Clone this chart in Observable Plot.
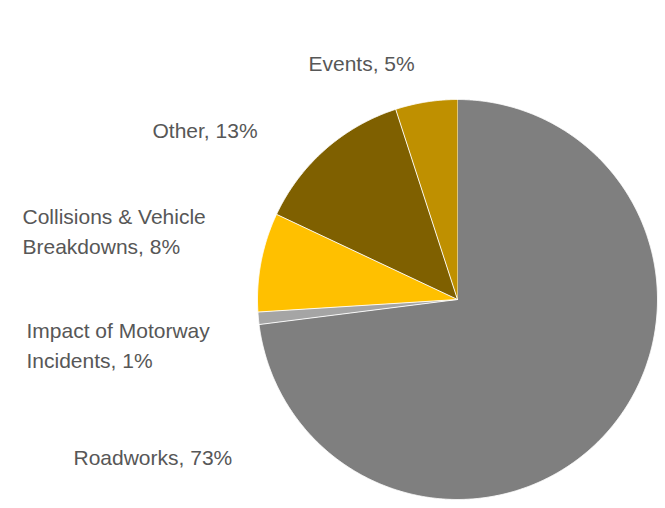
<!DOCTYPE html>
<html>
<head>
<meta charset="utf-8">
<script src="https://cdn.jsdelivr.net/npm/d3@7"></script>
<script src="https://cdn.jsdelivr.net/npm/@observablehq/plot@0.6"></script>
<style>
  html, body { margin: 0; padding: 0; background: #fff; }
  #chart { width: 665px; height: 508px; }
</style>
</head>
<body>
<div id="chart"></div>
<script>
// ---- data ----
const categories = ["Roadworks", "Impact of Motorway Incidents", "Collisions & Vehicle Breakdowns", "Other", "Events"];
const shares = [73, 1, 8, 13, 5];
const labels = ["Roadworks, 73%", "Impact of Motorway\nIncidents, 1%", "Collisions & Vehicle\nBreakdowns, 8%", "Other, 13%", "Events, 5%"];
const sliceColors = ["#7f7f7f", "#a5a5a5", "#ffc000", "#7f6000", "#bf9000"];

// ---- layout (label placement, pixels from the top-left of the frame) ----
const labelPlacement = [
  {dx: 73, dy: 444},
  {dx: 26, dy: 317},
  {dx: 22, dy: 203},
  {dx: 152, dy: 117},
  {dx: 308, dy: 50}
];
const fontSize = 21;

// build slice outlines from the pie layout
const arcs = d3.pie().sort(null).value(d => d)(shares);
const slicePoints = [];
arcs.forEach((a, i) => {
  slicePoints.push({slice: categories[i], color: sliceColors[i], x: 0, y: 0});
  const n = Math.max(2, Math.ceil((a.endAngle - a.startAngle) / 0.005));
  for (let k = 0; k <= n; k++) {
    const t = a.startAngle + (a.endAngle - a.startAngle) * k / n;
    slicePoints.push({slice: categories[i], color: sliceColors[i], x: Math.sin(t), y: Math.cos(t)});
  }
});

const cx = 457, cy = 299, r = 200;
const marks = [
  Plot.line(slicePoints, {
    x: "x", y: "y", z: "slice", fill: "color",
    stroke: "white", strokeWidth: 0.9, curve: "linear"
  })
];
labels.forEach((t, i) => {
  marks.push(Plot.text([t], {
    text: d => d,
    frameAnchor: "top-left",
    dx: labelPlacement[i].dx, dy: labelPlacement[i].dy,
    textAnchor: "start", lineAnchor: "top",
    lineHeight: 1.4,
    fill: "#575757",
    fontSize: fontSize,
    fontFamily: "'Liberation Sans Narrow', 'Arial Narrow', 'Liberation Sans', sans-serif"
  }));
});

const chart = Plot.plot({
  width: 665,
  height: 508,
  margin: 0,
  x: {domain: [-1, 1], range: [cx - r, cx + r], axis: null},
  y: {domain: [-1, 1], range: [cy + r, cy - r], axis: null},
  color: {type: "identity"},
  style: {background: "white", overflow: "visible"},
  marks
});
document.getElementById("chart").appendChild(chart);
</script>
</body>
</html>
